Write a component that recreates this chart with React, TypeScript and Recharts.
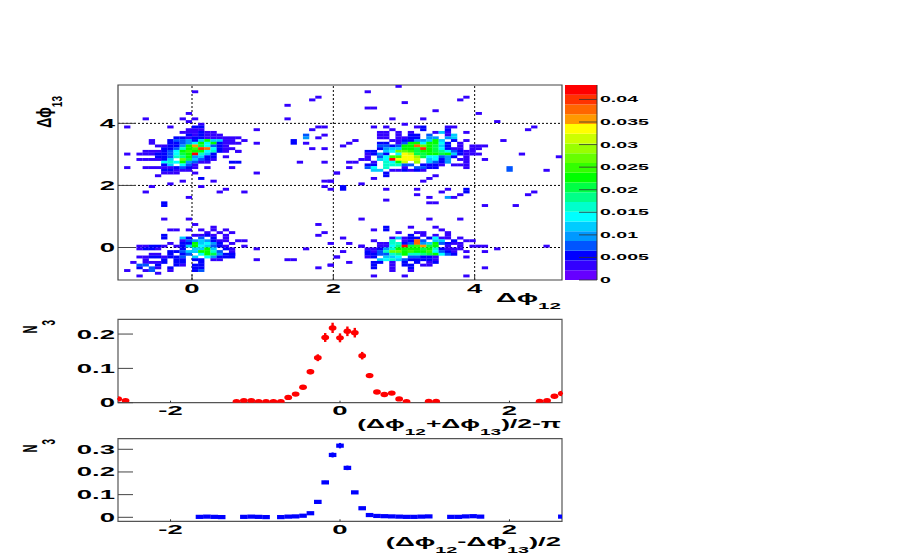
import {
  Bar,
  BarChart,
  ErrorBar,
  ReferenceArea,
  ReferenceLine,
  Scatter,
  ScatterChart,
  XAxis,
  YAxis,
} from 'recharts';

const FONT = '"Liberation Sans", Arial, sans-serif';
const W = 913;
const H = 554;

// palette of the z scale, lowest bin first
const zColors = [
  '#6600ff', '#3300ff', '#0000ff', '#0055ff', '#0099ff', '#00ccff', '#00ffff',
  '#00ffcc', '#00ff88', '#00ff44', '#00ff00', '#33ff00', '#66ff00', '#99ff00',
  '#ccff00', '#ffff00', '#ff9900', '#ff6600', '#ff3300', '#ff0000',
];
const zLetters = '0123456789abcdefghij';
const zStep = 0.00216;
const zTicks = [0, 0.005, 0.01, 0.015, 0.02, 0.025, 0.03, 0.035, 0.04];

const BIN = 0.08727;
const PHI_MIN = -1.0472;
const PHI_MAX = 5.236;

// [row from the top, first column, one letter per bin with the z level]
const blobTopLeft: [number, number, string][] = [
  [14, 0, '.............1'],
  [15, 0, '.1......1...22'],
  [16, 0, '...........111'],
  [17, 0, '..........111211'],
  [18, 0, '...........212111'],
  [19, 0, '.........22122111111'],
  [20, 0, '.....1..233425a5511.1'],
  [21, 0, '.....1..22346a6a2111'],
  [22, 0, '......11224ag96321'],
  [23, 0, '.......2237abih6211'],
  [24, 0, '....111236abaa6721.1'],
  [25, 0, '.1.11122369aj752'],
  [26, 0, '......22378a4522.1'],
  [27, 0, '...111125.c95321'],
  [28, 0, '.......676a4311...22'],
  [29, 0, '.......25.631'],
  [30, 0, '.1..111112321.1...1'],
  [31, 0, '.......22111'],
  [32, 0, '.......111..1'],
  [33, 0, '......1'],
  [34, 0, '.............2'],
  [35, 0, '..........1....1'],
  [36, 0, '........1'],
];

const blobBottomLeft: [number, number, string][] = [
  [51, 0, '............1'],
  [52, 0, '...............1'],
  [53, 0, '........11.1.1.1.1'],
  [54, 0, '..............1.1.1'],
  [55, 0, '.......2....1121.1'],
  [56, 0, '.......2..52.3.2.1'],
  [57, 0, '..........13454211.11'],
  [58, 0, '........1.22a5642.1'],
  [59, 0, '...11221.125a65321'],
  [60, 0, '...1221...2.55a5.2'],
  [61, 0, '........22355aa73.1'],
  [62, 0, '.....11.2.23.6a9422'],
  [63, 0, '...11221223.5.6422'],
  [64, 0, '....1..2.22.22'],
  [65, 0, '..1.1112.22..2'],
  [66, 0, '...33.2..21.22'],
  [67, 0, '...2.31.2...22'],
  [68, 0, '.1..13..1...23'],
  [69, 0, '......1'],
  [70, 0, '...1'],
];

const blobTopRight: [number, number, string][] = [
  [17, 38, '....11.1.1...151..1'],
  [18, 38, '....11.1.22.3..15'],
  [19, 38, '....11.1122.44.45'],
  [20, 38, '......1122445a5.2.1'],
  [21, 38, '....22.13aa6aa62.1'],
  [22, 38, '....3323aahca952.1.11'],
  [23, 38, '....2455aa9ia96211.11'],
  [24, 38, '..22.56ccb9aa9863211'],
  [25, 38, '..1242.6fe99aa9a52111'],
  [26, 38, '..1.36bbffd966342.1'],
  [27, 38, '.11.56jfffe.5624.11'],
  [28, 38, '1..1.76ae.d.5324..1'],
  [29, 38, '..22.77733.2221.111'],
  [30, 38, '..36.7..1.3322....1'],
  [31, 38, '...55.112121'],
  [32, 38, '.....2'],
  [33, 38, '.....2'],
];

const blobBottomRight: [number, number, string][] = [
  [54, 38, '.......1..11...1'],
  [55, 38, '.........2.1.1.1'],
  [56, 38, '......15122.2611.1'],
  [57, 38, '......7.12h3.55.2.11'],
  [58, 38, '....117723h45a3211'],
  [59, 38, '.1..1168j9bg9a.1.1.11'],
  [60, 38, '..11247aaaa9a72111'],
  [61, 38, '..2137ccabaab6321.1'],
  [62, 38, '..223378a7789a632'],
  [63, 38, '..12.556.33221'],
  [64, 38, '....5675322221'],
  [65, 38, '...22.1.2.2.12'],
  [66, 38, '...2..1.22.11'],
  [67, 38, '...2..1..2'],
  [68, 38, '......1..1'],
];

// lone bins: [column, row, z level]
const strayBins: [number, number, number][] = [
  [12, 2, 1], [32, 4, 1], [31, 5, 1], [27, 7, 1], [11, 10, 1], [4, 12, 1], [10, 12, 1],
  [12, 12, 1], [27, 12, 1], [11, 13, 1], [22, 16, 1], [33, 15, 1], [32, 15, 1], [31, 16, 1],
  [30, 18, 3], [30, 19, 4], [33, 18, 1], [32, 19, 1], [28, 20, 2], [28, 21, 2], [30, 21, 1],
  [22, 21, 1], [31, 23, 1], [33, 23, 1], [19, 24, 1], [29, 28, 1], [33, 28, 1], [22, 32, 1],
  [35, 32, 1], [33, 35, 1], [34, 35, 1], [5, 37, 1], [13, 37, 1], [33, 37, 1], [34, 38, 1],
  [17, 38, 1], [16, 39, 1], [20, 39, 1], [4, 39, 1], [11, 41, 1], [7, 43, 2], [7, 44, 2],
  [7, 49, 1], [11, 49, 1], [32, 51, 1], [33, 54, 1], [32, 55, 1], [34, 58, 1], [30, 60, 1],
  [22, 60, 1], [20, 59, 1], [18, 60, 1], [18, 62, 2], [18, 63, 2], [22, 64, 1], [15, 64, 1],
  [16, 64, 1], [27, 64, 1], [28, 64, 1], [35, 63, 1], [34, 66, 1], [32, 67, 1],
  [45, 0, 1], [40, 2, 1], [56, 4, 1], [55, 5, 1], [46, 6, 1], [40, 8, 1], [41, 8, 1],
  [51, 9, 1], [58, 10, 1], [44, 12, 1], [49, 12, 1], [61, 13, 1], [46, 14, 1], [41, 15, 1],
  [43, 15, 1], [48, 15, 1], [49, 15, 2], [53, 15, 1], [54, 15, 1], [67, 15, 1], [44, 16, 1],
  [49, 16, 2], [53, 16, 2], [66, 16, 1], [62, 20, 1], [59, 22, 1], [65, 25, 1], [59, 27, 1],
  [71, 26, 1], [63, 30, 3], [63, 31, 3], [69, 31, 1], [37, 28, 1], [37, 30, 1], [35, 32, 1],
  [41, 34, 1], [49, 35, 1], [50, 34, 1], [51, 33, 1], [34, 35, 1], [39, 36, 1], [36, 37, 2],
  [36, 38, 2], [36, 22, 1], [37, 21, 1], [38, 20, 1], [43, 38, 1], [48, 38, 1], [52, 39, 1],
  [53, 38, 1], [56, 38, 2], [56, 39, 2], [67, 39, 1], [66, 40, 1], [48, 40, 1], [50, 41, 1],
  [53, 41, 4], [54, 41, 1], [55, 40, 1], [43, 42, 1], [50, 43, 1], [51, 43, 1], [59, 44, 1],
  [64, 44, 1], [39, 49, 1], [50, 49, 1], [55, 49, 1], [47, 52, 1], [51, 52, 1], [43, 52, 2],
  [43, 53, 2], [41, 53, 1], [52, 53, 1], [36, 56, 1], [41, 57, 1], [37, 58, 1], [39, 59, 1],
  [69, 59, 1], [59, 59, 1], [59, 61, 1], [61, 60, 1], [36, 61, 1], [35, 63, 1], [56, 63, 1],
  [37, 65, 1], [59, 67, 1], [41, 70, 1], [46, 70, 1], [56, 70, 1], [34, 66, 1],
];

// middle panel: (dphi12 + dphi13)/2 - pi, bin position in units of the bin width
const sumBins = [-30, -29, -14, -13, -12, -11, -10, -9, -8, -7, -6, -5, -4, -3, -2, -1, 0, 1, 2, 3, 4, 5, 6, 7, 8, 9, 12, 13, 27, 28, 29, 30];
const sumValues = [0.011, 0.006, 0.003, 0.006, 0.006, 0.003, 0.003, 0.003, 0.003, 0.0155, 0.025, 0.045, 0.09, 0.131, 0.19, 0.218, 0.189, 0.208, 0.204, 0.137, 0.079, 0.031, 0.024, 0.028, 0.011, 0.003, 0.004, 0.004, 0.004, 0.006, 0.019, 0.027];
const sumErrors = [0.002, 0.001, 0.001, 0.001, 0.001, 0.001, 0.001, 0.001, 0.001, 0.002, 0.003, 0.004, 0.007, 0.01, 0.013, 0.015, 0.013, 0.014, 0.014, 0.011, 0.007, 0.003, 0.003, 0.003, 0.002, 0.001, 0.001, 0.001, 0.001, 0.001, 0.002, 0.003];

// bottom panel: (dphi12 - dphi13)/2
const diffBins = [-19, -18, -17, -16, -13, -12, -11, -10, -8, -7, -6, -5, -4, -3, -2, -1, 0, 1, 2, 3, 4, 5, 6, 7, 8, 9, 10, 11, 12, 15, 16, 17, 18, 19, 30];
const diffValues = [0.002, 0.003, 0.002, 0.001, 0.002, 0.003, 0.002, 0.001, 0.001, 0.003, 0.004, 0.007, 0.018, 0.068, 0.154, 0.275, 0.316, 0.218, 0.11, 0.04, 0.01, 0.006, 0.005, 0.004, 0.003, 0.002, 0.002, 0.003, 0.004, 0.002, 0.002, 0.004, 0.005, 0.003, 0.003];
const diffErrors = [0, 0, 0, 0, 0, 0, 0, 0, 0, 0, 0, 0.001, 0.002, 0.004, 0.007, 0.011, 0.012, 0.01, 0.006, 0.003, 0.002, 0, 0, 0, 0, 0, 0, 0, 0, 0, 0, 0, 0, 0, 0];

const blobs = [blobTopLeft, blobBottomLeft, blobTopRight, blobBottomRight];

const binCentre = (col: number, row: number, level: number) => ({
  x: PHI_MIN + (col + 0.5) * BIN,
  y: PHI_MAX - (row + 0.5) * BIN,
  level,
});

const heatCells = [
  ...blobs.flatMap((rows) =>
    rows.flatMap(([row, first, text]) =>
      text.split('').flatMap((ch, i) => (ch === '.' ? [] : [binCentre(first + i, row, zLetters.indexOf(ch))])),
    ),
  ),
  ...strayBins.map(([col, row, level]) => binCentre(col, row, level)),
];

const sumPoints = sumBins.map((k, i) => ({ x: k * BIN, y: sumValues[i], err: sumErrors[i] }));
const diffPoints = diffBins.map((k, i) => ({ x: k * BIN, y: diffValues[i], err: diffErrors[i] }));
const zRow = [Object.fromEntries(zColors.map((_, i) => [`z${i}`, zStep]))];

function Stretched({ x, y, text, size = 12.5, sx = 2.2, anchor = 'middle' }: any) {
  return (
    <text
      transform={`translate(${x} ${y}) scale(${sx} 1)`}
      textAnchor={anchor}
      fontFamily={FONT}
      fontWeight={700}
      fontSize={size}
      fill="#000"
    >
      {text}
    </text>
  );
}

// ticks go inside the frame like in the ROOT original
const yTick = (len: number) => ({ x, y, payload }: any) => (
  <g>
    <line x1={x} x2={x + len} y1={y} y2={y} stroke="#444" strokeWidth={1} />
    <Stretched x={x - 3} y={y + 4.5} text={String(payload.value)} anchor="end" />
  </g>
);

const xTick = (dy: number, len: number) => ({ x, y, payload }: any) => (
  <g>
    <line x1={x} x2={x} y1={y} y2={y - len} stroke="#333" strokeWidth={1} />
    <Stretched x={x} y={y + dy} text={String(payload.value)} />
  </g>
);

const zTick = ({ x, y, payload }: any) => (
  <g>
    <line x1={x - 18} x2={x} y1={y} y2={y} stroke="#333" strokeOpacity={0.8} strokeWidth={1} />
    <Stretched x={x + 3} y={y + 3} text={String(payload.value)} size={8.5} sx={2.3} anchor="start" />
  </g>
);

const HeatCell = ({ cx, cy, payload }: any) => (
  <rect x={cx - 3.15} y={cy - 1.45} width={6.3} height={2.9} fill={zColors[payload.level]} />
);

const RedDot = ({ cx, cy }: any) => <ellipse cx={cx} cy={cy} rx={3.9} ry={2.7} fill="#ff0000" />;

const BlueDash = ({ cx, cy }: any) => <rect x={cx - 3.8} y={cy - 2.1} width={7.6} height={4.2} fill="#0000ff" />;

const chartProps = { width: W, height: H, style: { position: 'absolute', left: 0, top: 0 } as const };

function Title({ x, y, parts, anchor = 'end', rotate = false, size = 12.5, sx = 2.2, subScale = 0.72, drop = 0.55 }: any) {
  const t = rotate
    ? `translate(${x} ${y}) scale(${sx} 1) rotate(-90)`
    : `translate(${x} ${y}) scale(${sx} 1)`;
  return (
    <text transform={t} textAnchor={anchor} fontFamily={FONT} fontWeight={700} fontSize={size} fill="#000">
      {parts.map(([s, sub]: [string, boolean], i: number) => {
        const prevSub = i > 0 && parts[i - 1][1];
        const dy = sub === prevSub ? 0 : sub ? size * drop : -size * drop;
        return (
          <tspan key={i} dy={dy} fontSize={sub ? size * subScale : size}>
            {s}
          </tspan>
        );
      })}
    </text>
  );
}

export default function App() {
  return (
    <div style={{ position: 'absolute', left: 0, top: 0, width: W, height: H, background: '#fff', overflow: 'hidden' }}>
      <ScatterChart {...chartProps} margin={{ left: 117, right: W - 562, top: 85, bottom: H - 281 }}>
        <XAxis
          type="number"
          dataKey="x"
          height={1}
          domain={[PHI_MIN, PHI_MAX]}
          allowDataOverflow
          ticks={[0, 2, 4]}
          interval={0}
          axisLine={false}
          tickLine={false}
          tickSize={0}
          tickMargin={0}
          tick={xTick(13, 5)}
        />
        <YAxis
          type="number"
          dataKey="y"
          width={1}
          domain={[PHI_MIN, PHI_MAX]}
          allowDataOverflow
          ticks={[0, 2, 4]}
          interval={0}
          axisLine={false}
          tickLine={false}
          tickSize={0}
          tickMargin={0}
          tick={yTick(18)}
        />
        <Scatter data={heatCells} shape={HeatCell} isAnimationActive={false} />
        {[0, 2, 4].map((v) => (
          <ReferenceLine key={`v${v}`} x={v} stroke="#000" strokeDasharray="2 2" />
        ))}
        {[0, 2, 4].map((v) => (
          <ReferenceLine key={`h${v}`} y={v} stroke="#000" strokeDasharray="2 2" />
        ))}
        <ReferenceArea x1={PHI_MIN} x2={PHI_MAX} y1={PHI_MIN} y2={PHI_MAX} fill="none" stroke="#444" strokeWidth={1.2} />
      </ScatterChart>

      <BarChart
        {...chartProps}
        data={zRow}
        barCategoryGap={0}
        margin={{ left: 565, right: W - 598, top: 85, bottom: H - 280 }}
      >
        <XAxis hide />
        <YAxis
          orientation="right"
          type="number"
          width={1}
          domain={[0, zStep * zColors.length]}
          allowDataOverflow
          ticks={zTicks}
          interval={0}
          axisLine={{ stroke: '#333' }}
          tickLine={false}
          tickSize={0}
          tickMargin={0}
          tick={zTick}
        />
        {zColors.map((c, i) => (
          <Bar key={c} dataKey={`z${i}`} stackId="z" fill={c} isAnimationActive={false} />
        ))}
      </BarChart>

      <ScatterChart {...chartProps} margin={{ left: 117, right: W - 562, top: 319.3, bottom: H - 403.7 }}>
        <XAxis
          type="number"
          dataKey="x"
          height={1}
          domain={[-2.62, 2.62]}
          allowDataOverflow
          ticks={[-2, 0, 2]}
          interval={0}
          axisLine={false}
          tickLine={false}
          tickSize={0}
          tickMargin={0}
          tick={xTick(12, 2)}
        />
        <YAxis
          type="number"
          dataKey="y"
          width={1}
          domain={[0, 0.243]}
          allowDataOverflow
          ticks={[0, 0.1, 0.2]}
          interval={0}
          axisLine={false}
          tickLine={false}
          tickSize={0}
          tickMargin={0}
          tick={yTick(15)}
        />
        <Scatter data={sumPoints} shape={RedDot} isAnimationActive={false}>
          <ErrorBar dataKey="err" direction="y" width={0} stroke="#ff0000" strokeWidth={2.4} isAnimationActive={false} />
        </Scatter>
        <ReferenceArea x1={-2.62} x2={2.62} y1={0} y2={0.243} fill="none" stroke="#555" strokeWidth={1.2} />
      </ScatterChart>

      <ScatterChart {...chartProps} margin={{ left: 117, right: W - 562, top: 438.7, bottom: H - 522.3 }}>
        <XAxis
          type="number"
          dataKey="x"
          height={1}
          domain={[-2.62, 2.62]}
          allowDataOverflow
          ticks={[-2, 0, 2]}
          interval={0}
          axisLine={false}
          tickLine={false}
          tickSize={0}
          tickMargin={0}
          tick={xTick(12.5, 2)}
        />
        <YAxis
          type="number"
          dataKey="y"
          width={1}
          domain={[-0.0176, 0.3467]}
          allowDataOverflow
          ticks={[0, 0.1, 0.2, 0.3]}
          interval={0}
          axisLine={false}
          tickLine={false}
          tickSize={0}
          tickMargin={0}
          tick={yTick(15)}
        />
        <Scatter data={diffPoints} shape={BlueDash} isAnimationActive={false}>
          <ErrorBar dataKey="err" direction="y" width={0} stroke="#0000ff" strokeWidth={2.2} isAnimationActive={false} />
        </Scatter>
        <ReferenceArea x1={-2.62} x2={2.62} y1={-0.0176} y2={0.3467} fill="none" stroke="#555" strokeWidth={1.2} />
      </ScatterChart>

      <svg width={W} height={H} style={{ position: 'absolute', left: 0, top: 0 }}>
        <Title x={561} y={302} parts={[['Δϕ', false], ['12', true]]} size={13} />
        <Title x={51} y={96} rotate parts={[['Δϕ', false], ['13', true]]} size={14} sx={1.4} />
        <Title x={561} y={428} parts={[['(Δϕ', false], ['12', true], ['+Δϕ', false], ['13', true], [')/2-π', false]]} size={12} />
        <Title x={561} y={546} parts={[['(Δϕ', false], ['12', true], ['-Δϕ', false], ['13', true], [')/2', false]]} />
        <Title x={37} y={320} rotate parts={[['N', false], ['3', true]]} size={11} sx={1.9} subScale={0.9} drop={0.85} />
        <Title x={37} y={439} rotate parts={[['N', false], ['3', true]]} size={11} sx={1.9} subScale={0.9} drop={0.85} />
      </svg>
    </div>
  );
}
